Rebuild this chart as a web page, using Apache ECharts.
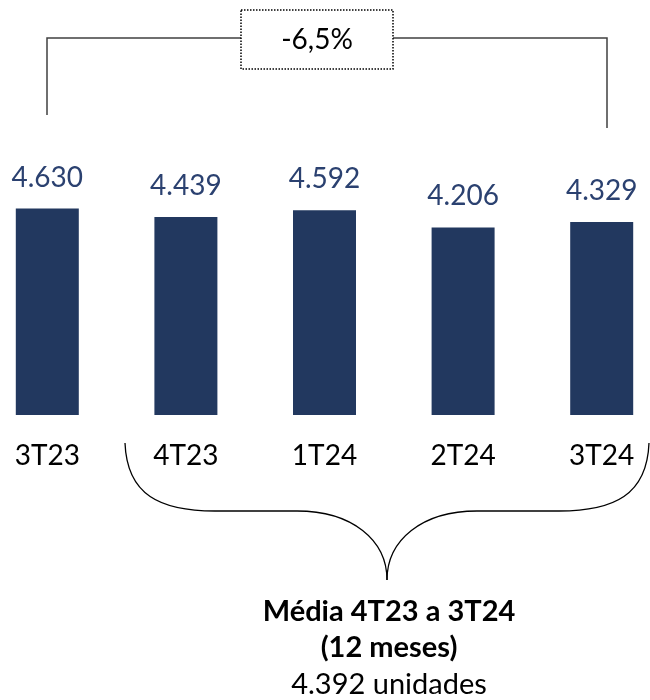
<!DOCTYPE html>
<html>
<head>
<meta charset="utf-8">
<script src="https://cdn.jsdelivr.net/npm/echarts@6/dist/echarts.min.js"></script>
<style>
html,body{margin:0;padding:0;background:#fff;overflow:hidden;width:650px;height:700px;}
#main{position:absolute;left:-22px;top:0;width:693px;height:700px;}
</style>
</head>
<body>
<div id="main"></div>
<script>
var categories = ['3T23', '4T23', '1T24', '2T24', '3T24'];
var values = [4630, 4439, 4592, 4206, 4329];
var changeLabel = '-6,5%';
var avgTitle = 'Média 4T23 a 3T24';
var avgSub = '(12 meses)';
var avgValue = '4.392 unidades';

var FONT = 'Lato, "Open Sans", "Noto Sans", sans-serif';
function fmt(v) { return String(v).replace(/\B(?=(\d{3})+(?!\d))/g, '.'); }

var chart = echarts.init(document.getElementById('main'));
var lineColor = '#404040';
var braceStyle = { stroke: '#000', lineWidth: 1.3, fill: null };
function bez(x1, y1, c1x, c1y, c2x, c2y, x2, y2) {
  return { type: 'bezierCurve', shape: { x1: x1, y1: y1, cpx1: c1x, cpy1: c1y, cpx2: c2x, cpy2: c2y, x2: x2, y2: y2 }, style: braceStyle };
}
function seg(x1, y1, x2, y2, st) {
  return { type: 'line', shape: { x1: x1, y1: y1, x2: x2, y2: y2 }, style: st };
}
var option = {
  backgroundColor: '#ffffff',
  animation: false,
  grid: { left: 0, right: 0, top: 192, bottom: 285, containLabel: false },
  xAxis: {
    type: 'category',
    data: categories,
    axisLine: { show: false },
    axisTick: { show: false },
    axisLabel: { color: '#000000', fontSize: 28, fontFamily: FONT, margin: 27 }
  },
  yAxis: {
    type: 'value', min: 0, max: 5000,
    show: false,
    splitLine: { show: false }
  },
  series: [{
    type: 'bar',
    data: values,
    barWidth: 63,
    itemStyle: { color: '#22385F' },
    label: {
      show: true, position: 'top', distance: 17,
      color: '#2B4170', fontSize: 28, fontFamily: FONT,
      formatter: function (p) { return fmt(p.value); }
    }
  }],
  graphic: [{
    type: 'group', x: 22, y: 0,
    children: [
      // top bracket
      { type: 'polyline', shape: { points: [[47, 115], [47, 38], [241, 38]] }, style: { stroke: lineColor, lineWidth: 1.5, fill: null } },
      { type: 'polyline', shape: { points: [[393, 38], [607, 38], [607, 128]] }, style: { stroke: lineColor, lineWidth: 1.5, fill: null } },
      { type: 'rect', shape: { x: 241, y: 10, width: 152, height: 59 }, style: { stroke: '#000', lineWidth: 1.5, lineDash: [1.5, 1.5], fill: '#fff' } },
      { type: 'text', x: 317, y: 40, style: { text: changeLabel, fontSize: 28, fontFamily: FONT, fill: '#000', align: 'center', verticalAlign: 'middle' } },
      // curly brace
      bez(125, 443, 127, 495, 160, 511, 215, 511),
      seg(215, 511, 297, 511, braceStyle),
      bez(297, 511, 352, 511, 387, 540, 387, 580),
      bez(387, 580, 387, 540, 422, 511, 477, 511),
      seg(477, 511, 559, 511, braceStyle),
      bez(559, 511, 614, 511, 647, 495, 649, 443),
      // average text
      { type: 'text', x: 389, y: 612, style: { text: avgTitle, fontSize: 29, fontWeight: 'bold', fontFamily: FONT, fill: '#000', align: 'center', verticalAlign: 'middle' } },
      { type: 'text', x: 389, y: 648, style: { text: avgSub, fontSize: 29, fontWeight: 'bold', fontFamily: FONT, fill: '#000', align: 'center', verticalAlign: 'middle' } },
      { type: 'text', x: 389, y: 685, style: { text: avgValue, fontSize: 29, fontFamily: FONT, fill: '#000', align: 'center', verticalAlign: 'middle' } }
    ]
  }]
};
chart.setOption(option);
</script>
</body>
</html>
